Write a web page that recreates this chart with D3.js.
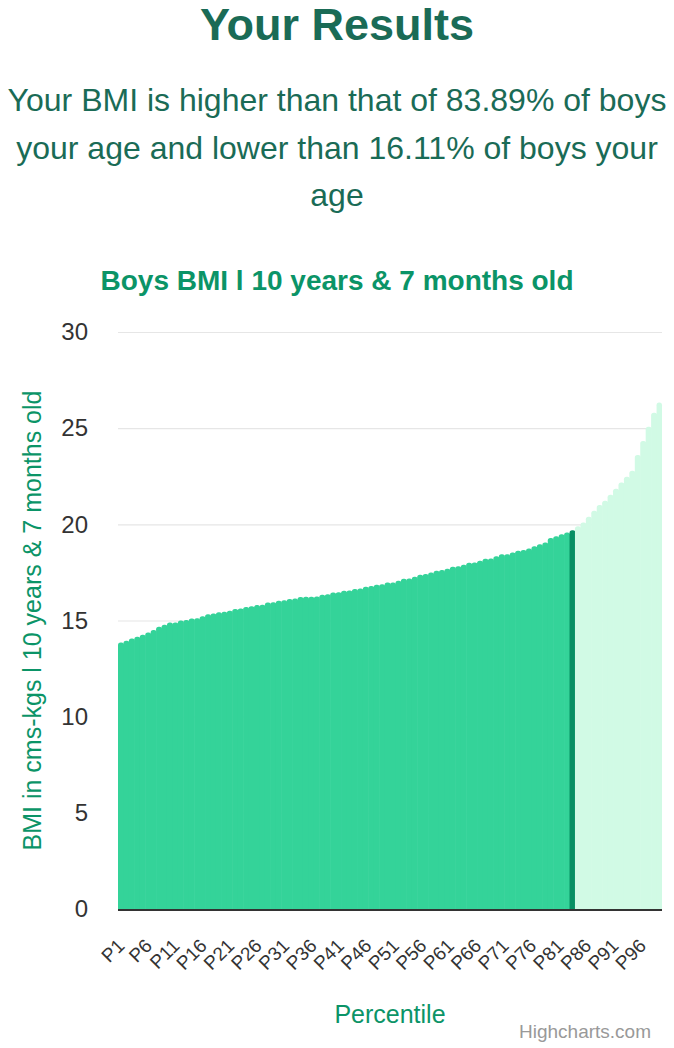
<!DOCTYPE html>
<html>
<head>
<meta charset="utf-8">
<script src="https://cdn.jsdelivr.net/npm/d3@7"></script>
<style>
  html, body { margin: 0; padding: 0; background: #fff; }
  svg { display: block; font-family: "Liberation Sans", Arial, sans-serif; }
</style>
</head>
<body>
<div id="chart"></div>
<script>
// BMI percentile values, P1 .. P100
const percentiles = d3.range(1, 101).map(i => "P" + i);
const bmiValues = [
  13.86, 13.95, 14.07, 14.16, 14.26, 14.37, 14.50, 14.68, 14.78, 14.89,
  14.90, 15.00, 15.02, 15.11, 15.12, 15.22, 15.32, 15.36, 15.43, 15.45,
  15.51, 15.60, 15.62, 15.70, 15.74, 15.80, 15.82, 15.93, 15.95, 16.03,
  16.05, 16.12, 16.15, 16.22, 16.24, 16.24, 16.25, 16.34, 16.36, 16.45,
  16.47, 16.55, 16.56, 16.64, 16.66, 16.76, 16.80, 16.86, 16.88, 16.97,
  16.98, 17.07, 17.17, 17.19, 17.28, 17.38, 17.42, 17.49, 17.59, 17.62,
  17.69, 17.80, 17.82, 17.90, 18.00, 18.01, 18.11, 18.21, 18.23, 18.34,
  18.44, 18.45, 18.54, 18.63, 18.67, 18.75, 18.86, 18.96, 19.06, 19.29,
  19.38, 19.48, 19.58, 19.69, 19.90, 20.09, 20.40, 20.71, 21.00, 21.23,
  21.54, 21.85, 22.17, 22.48, 22.79, 23.60, 24.33, 25.08, 25.80, 26.33
];
const userPercentile = "P84";
const yTicks = [0, 5, 10, 15, 20, 25, 30];
const xTickLabels = d3.range(1, 100, 5).map(i => "P" + i);

const headerTitle = "Your Results";
const headerLines = [
  "Your BMI is higher than that of 83.89% of boys",
  "your age and lower than 16.11% of boys your",
  "age"
];
const chartTitle = "Boys BMI l 10 years & 7 months old";
const yAxisTitle = "BMI in cms-kgs l 10 years & 7 months old";
const xAxisTitle = "Percentile";

const width = 674, height = 1048;
const margin = { top: 332, right: 12, bottom: 139, left: 118 };
const plotW = width - margin.left - margin.right;
const plotH = height - margin.top - margin.bottom;

const svg = d3.select("#chart").append("svg")
  .attr("width", width)
  .attr("height", height);

// header
svg.append("text")
  .attr("x", width / 2).attr("y", 40)
  .attr("text-anchor", "middle")
  .attr("font-size", 45).attr("font-weight", "bold")
  .attr("fill", "#1a6b56")
  .text(headerTitle);

svg.append("g").selectAll("text")
  .data(headerLines)
  .join("text")
  .attr("x", width / 2)
  .attr("y", (d, i) => 111 + i * 47.5)
  .attr("text-anchor", "middle")
  .attr("font-size", 32)
  .attr("fill", "#1a6b56")
  .text(d => d);

svg.append("text")
  .attr("x", width / 2).attr("y", 290)
  .attr("text-anchor", "middle")
  .attr("font-size", 28).attr("font-weight", "bold")
  .attr("fill", "#0b9467")
  .text(chartTitle);

const g = svg.append("g").attr("transform", `translate(${margin.left},${margin.top})`);

const x = d3.scaleBand().domain(percentiles).range([0, plotW]).padding(0);
const y = d3.scaleLinear().domain([0, 30]).range([plotH, 0]);

// gridlines
g.append("g")
  .call(d3.axisLeft(y).tickValues(yTicks).tickSize(-plotW).tickFormat(""))
  .call(a => a.select(".domain").remove())
  .call(a => a.selectAll("line").attr("stroke", "#e6e6e6").attr("stroke-width", 1.2));

// y labels
g.append("g")
  .call(d3.axisLeft(y).tickValues(yTicks).tickSize(0).tickPadding(30))
  .call(a => a.select(".domain").remove())
  .call(a => a.selectAll("text")
    .attr("font-size", 24)
    .attr("fill", "#333")
    .attr("font-family", "Liberation Sans, Arial, sans-serif"));

// bars with rounded tops
const userIdx = percentiles.indexOf(userPercentile);
const r = 2.6;
function barPath(d, i) {
  const x0 = x(percentiles[i]), w = x.bandwidth() + (i < percentiles.length - 1 ? 0.6 : 0);
  const top = y(d), bot = y(0);
  return `M${x0},${bot}V${top + r}Q${x0},${top} ${x0 + r},${top}` +
    `H${x0 + w - r}Q${x0 + w},${top} ${x0 + w},${top + r}V${bot}Z`;
}
g.append("g").selectAll("path")
  .data(bmiValues)
  .join("path")
  .attr("d", barPath)
  .attr("fill", (d, i) => i === userIdx ? "#078f63" : (i < userIdx ? "#34d399" : "#d1fae5"));

// x axis line
g.append("line")
  .attr("x1", 0).attr("x2", plotW)
  .attr("y1", plotH + 1).attr("y2", plotH + 1)
  .attr("stroke", "#333").attr("stroke-width", 2);

// x labels
g.append("g").selectAll("text")
  .data(xTickLabels)
  .join("text")
  .attr("transform", (d, i) => `translate(${x(d) + x.bandwidth() / 2 + 5 + i * 0.25},${plotH + 38}) rotate(-45)`)
  .attr("text-anchor", "end")
  .attr("font-size", 19)
  .attr("fill", "#333")
  .text(d => d);

// axis titles
svg.append("text")
  .attr("transform", `translate(41,${margin.top + plotH / 2}) rotate(-90)`)
  .attr("text-anchor", "middle")
  .attr("font-size", 25)
  .attr("fill", "#0b9467")
  .text(yAxisTitle);

svg.append("text")
  .attr("x", margin.left + plotW / 2).attr("y", 1023)
  .attr("text-anchor", "middle")
  .attr("font-size", 25)
  .attr("fill", "#0b9467")
  .text(xAxisTitle);

svg.append("text")
  .attr("x", 651).attr("y", 1038)
  .attr("text-anchor", "end")
  .attr("font-size", 19)
  .attr("fill", "#999")
  .text("Highcharts.com");
</script>
</body>
</html>
